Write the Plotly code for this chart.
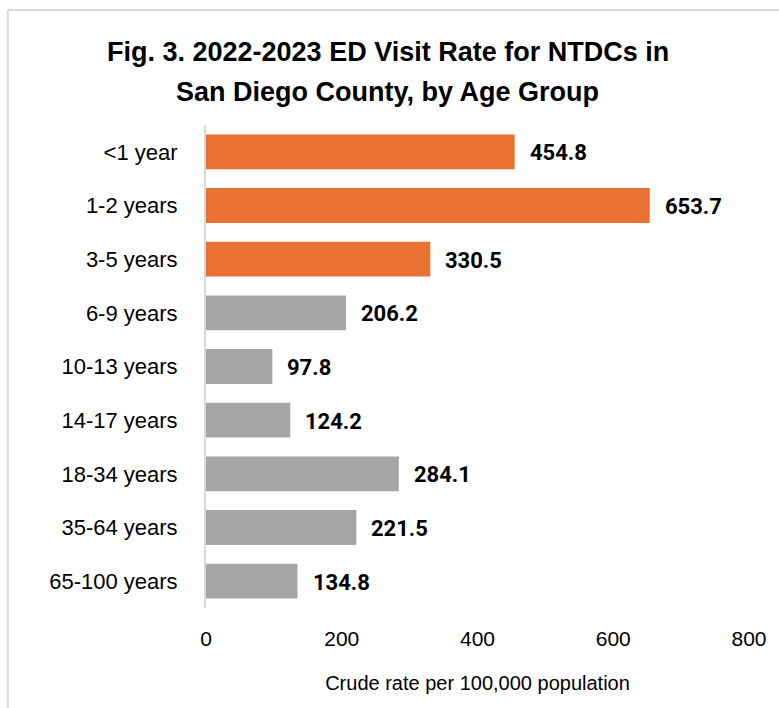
import plotly.graph_objects as go

# age groups, top to bottom as shown
age_groups = ['<1 year', '1-2 years', '3-5 years', '6-9 years', '10-13 years',
              '14-17 years', '18-34 years', '35-64 years', '65-100 years']
rates = [454.8, 653.7, 330.5, 206.2, 97.8, 124.2, 284.1, 221.5, 134.8]
highlight = [True, True, True, False, False, False, False, False, False]
x_ticks = [0, 200, 400, 600, 800]
title_lines = ['Fig. 3. 2022-2023 ED Visit Rate for NTDCs in',
               'San Diego County, by Age Group']

ORANGE = '#E97132'
GRAY = '#A6A6A6'
colors = [ORANGE if h else GRAY for h in highlight]

fig = go.Figure(go.Bar(
    x=rates, y=age_groups, orientation='h',
    marker=dict(color=colors, line=dict(width=0)),
    width=0.65, hoverinfo='x+y',
))

for cat, val in zip(age_groups, rates):
    fig.add_annotation(x=val, y=cat, text=f'<b>{val:.1f}</b>', showarrow=False,
                       xanchor='left', xshift=13, yshift=-1,
                       font=dict(family='Roboto, Liberation Sans, Arial', size=22, color='#000000'))

# two-line title, placed by hand so line spacing matches
for i, line in enumerate(title_lines):
    fig.add_annotation(xref='paper', yref='paper', x=0.5, y=1.0,
                       xanchor='center', yanchor='middle',
                       xshift=-90, yshift=73 - 40 * i,
                       text=f'<b>{line}</b>', showarrow=False,
                       font=dict(family='Liberation Sans, Arial', size=27, color='#000000'))

# light chart-area border (left and top visible in the crop)
border = dict(color='#D9D9D9', width=2)
fig.add_shape(type='line', xref='paper', yref='paper', x0=-0.365, x1=-0.365, y0=1.238, y1=-0.3, line=border)
fig.add_shape(type='line', xref='paper', yref='paper', x0=-0.365, x1=1.2, y0=1.238, y1=1.238, line=border)

fig.update_layout(
    width=779, height=708,
    margin=dict(l=206, r=27, t=125, b=100),
    paper_bgcolor='white', plot_bgcolor='white',
    showlegend=False,
    font=dict(family='Liberation Sans, Arial', color='#000000'),
)

fig.update_xaxes(range=[0, 800], tickvals=x_ticks, showgrid=False, zeroline=False,
                 showline=False, ticks='', tickfont=dict(size=21), ticklabelstandoff=16,
                 title=dict(text='Crude rate per 100,000 population', font=dict(size=20), standoff=26))
fig.update_yaxes(categoryorder='array', categoryarray=age_groups, autorange='reversed',
                 showgrid=False, showline=True, linecolor='#D9D9D9', linewidth=2,
                 ticks='', ticklabelstandoff=22, tickfont=dict(size=22))

fig.write_html('out.html', config={'displayModeBar': False},
               post_script="document.body.style.margin='0';")
